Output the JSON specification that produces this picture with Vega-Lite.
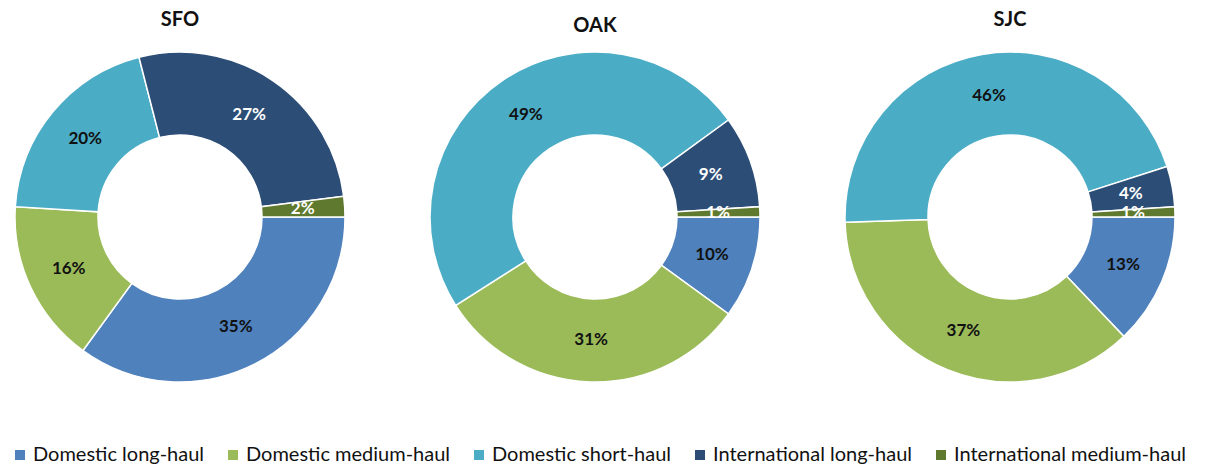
{
  "$schema": "https://vega.github.io/schema/vega-lite/v6.json",
  "background": "white",
  "padding": {"left": 10, "top": 10, "right": 5, "bottom": 0},
  "data": {
    "values": [
      {"airport": "SFO", "k": 1, "category": "Domestic long-haul", "share": 0.35},
      {"airport": "SFO", "k": 2, "category": "Domestic medium-haul", "share": 0.16},
      {"airport": "SFO", "k": 3, "category": "Domestic short-haul", "share": 0.20},
      {"airport": "SFO", "k": 4, "category": "International long-haul", "share": 0.27},
      {"airport": "SFO", "k": 5, "category": "International medium-haul", "share": 0.02},
      {"airport": "OAK", "k": 1, "category": "Domestic long-haul", "share": 0.10},
      {"airport": "OAK", "k": 2, "category": "Domestic medium-haul", "share": 0.31},
      {"airport": "OAK", "k": 3, "category": "Domestic short-haul", "share": 0.49},
      {"airport": "OAK", "k": 4, "category": "International long-haul", "share": 0.09},
      {"airport": "OAK", "k": 5, "category": "International medium-haul", "share": 0.01},
      {"airport": "SJC", "k": 1, "category": "Domestic long-haul", "share": 0.13},
      {"airport": "SJC", "k": 2, "category": "Domestic medium-haul", "share": 0.37},
      {"airport": "SJC", "k": 3, "category": "Domestic short-haul", "share": 0.46},
      {"airport": "SJC", "k": 4, "category": "International long-haul", "share": 0.04},
      {"airport": "SJC", "k": 5, "category": "International medium-haul", "share": 0.01}
    ]
  },
  "spacing": 75,
  "hconcat": [
    {
      "title": {"text": "SFO", "offset": 19},
      "width": 340, "height": 330,
      "transform": [{"filter": "datum.airport === 'SFO'"}],
      "encoding": {
        "theta": {"field": "share", "type": "quantitative", "stack": true, "scale": {"range": [1.5708, 7.854]}},
        "order": {"field": "k", "type": "quantitative"}
      },
      "layer": [
        {"mark": {"type": "arc", "outerRadius": 165, "innerRadius": 82, "stroke": "white", "strokeWidth": 1.5},
         "encoding": {"color": {"field": "category", "type": "nominal"}}},
        {"mark": {"type": "text", "radius": 123, "fontSize": 17, "fontWeight": "bold", "font": "Lato"},
         "encoding": {
           "text": {"field": "share", "type": "quantitative", "format": ".0%"},
           "color": {"condition": {"test": "datum.k >= 4", "value": "white"}, "value": "#111111"}
         }}
      ]
    },
    {
      "title": {"text": "OAK", "offset": 13},
      "width": 340, "height": 330,
      "transform": [{"filter": "datum.airport === 'OAK'"}],
      "encoding": {
        "theta": {"field": "share", "type": "quantitative", "stack": true, "scale": {"range": [1.5708, 7.854]}},
        "order": {"field": "k", "type": "quantitative"}
      },
      "layer": [
        {"mark": {"type": "arc", "outerRadius": 165, "innerRadius": 82, "stroke": "white", "strokeWidth": 1.5},
         "encoding": {"color": {"field": "category", "type": "nominal"}}},
        {"mark": {"type": "text", "radius": 123, "fontSize": 17, "fontWeight": "bold", "font": "Lato"},
         "encoding": {
           "text": {"field": "share", "type": "quantitative", "format": ".0%"},
           "color": {"condition": {"test": "datum.k >= 4", "value": "white"}, "value": "#111111"}
         }}
      ]
    },
    {
      "title": {"text": "SJC", "offset": 19},
      "width": 340, "height": 330,
      "transform": [{"filter": "datum.airport === 'SJC'"}],
      "encoding": {
        "theta": {"field": "share", "type": "quantitative", "stack": true, "scale": {"range": [1.5708, 7.854]}},
        "order": {"field": "k", "type": "quantitative"}
      },
      "layer": [
        {"mark": {"type": "arc", "outerRadius": 165, "innerRadius": 82, "stroke": "white", "strokeWidth": 1.5},
         "encoding": {"color": {"field": "category", "type": "nominal"}}},
        {"mark": {"type": "text", "radius": 123, "fontSize": 17, "fontWeight": "bold", "font": "Lato"},
         "encoding": {
           "text": {"field": "share", "type": "quantitative", "format": ".0%"},
           "color": {"condition": {"test": "datum.k >= 4", "value": "white"}, "value": "#111111"}
         }}
      ]
    }
  ],
  "resolve": {"scale": {"color": "shared", "theta": "independent"}},
  "config": {
    "view": {"stroke": null},
    "title": {"font": "Lato", "fontSize": 20, "fontWeight": "bold", "color": "#111111", "anchor": "middle"},
    "range": {"category": ["#4F81BD", "#9BBB59", "#4BACC6", "#2C4D75", "#5F7A2E"]},
    "legend": {
      "orient": "bottom",
      "direction": "horizontal",
      "title": null,
      "offset": 60,
      "padding": 0,
      "symbolType": "square",
      "symbolSize": 100,
      "symbolStrokeWidth": 0,
      "labelFont": "Lato",
      "labelFontSize": 20,
      "labelColor": "#111111",
      "labelOffset": 3,
      "columnPadding": 18,
      "labelLimit": 400
    }
  }
}
